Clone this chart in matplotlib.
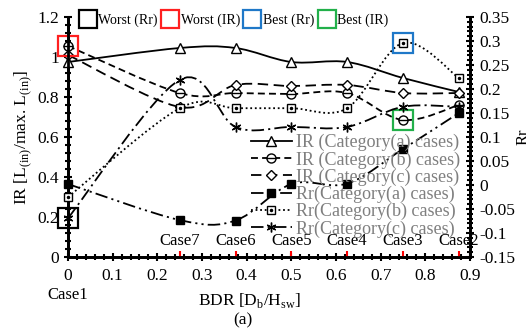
import numpy as np
import matplotlib
matplotlib.use("Agg")
import matplotlib.pyplot as plt
from matplotlib.path import Path
from matplotlib.patches import PathPatch
from matplotlib.lines import Line2D
from matplotlib.ticker import MultipleLocator

plt.rcParams['font.family'] = ['Liberation Serif', 'DejaVu Serif']
plt.rcParams['mathtext.fontset'] = 'custom'
plt.rcParams['mathtext.rm'] = 'Liberation Serif'
plt.rcParams['lines.scale_dashes'] = False

# data
bdr = [0, 0.25, 0.375, 0.5, 0.625, 0.75, 0.875]
case_names = ['Case1', 'Case7', 'Case6', 'Case5', 'Case4', 'Case3', 'Case2']

ir_a = [0.975, 1.045, 1.045, 0.975, 0.975, 0.895, 0.825]
ir_b = [1.055, 0.82, 0.82, 0.815, 0.82, 0.685, 0.76]
ir_c = [1.01, 0.75, 0.86, 0.855, 0.86, 0.82, 0.82]

rr_a = [0.002, -0.073, -0.074, 0.002, 0.003, 0.075, 0.15]
rr_b = [-0.025, 0.16, 0.16, 0.16, 0.16, 0.296, 0.223]
rr_c = [-0.069, 0.219, 0.121, 0.121, 0.121, 0.163, 0.163]

ir_labels = ['IR (Category(a) cases)', 'IR (Category(b) cases)', 'IR (Category(c) cases)']
rr_labels = ['Rr(Category(a) cases)', 'Rr(Category(b) cases)', 'Rr(Category(c) cases)']


def smooth_path(xs, ys):
    # catmull-rom style bezier through the points (like excel smoothed lines)
    pts = np.column_stack([xs, ys]).astype(float)
    n = len(pts)
    verts = [pts[0]]
    codes = [Path.MOVETO]
    for i in range(n - 1):
        p0 = pts[max(i - 1, 0)]
        p1 = pts[i]
        p2 = pts[i + 1]
        p3 = pts[min(i + 2, n - 1)]
        verts += [p1 + (p2 - p0) / 6, p2 - (p3 - p1) / 6, p2]
        codes += [Path.CURVE4] * 3
    return Path(verts, codes)


lw = 1.3
styles = [
    # (values, axis, dashes, marker, size, face, inner marker, inner size)
    (ir_a, 0, None, '^', 6.5, 'white', None, 0),
    (ir_b, 0, (5, 3), 'o', 6.5, 'white', '_', 6.5),
    (ir_c, 0, (7.5, 4), 'D', 5, 'white', None, 0),
    (rr_a, 1, (9, 3, 1.5, 3, 1.5, 3), 's', 5.5, 'black', None, 0),
    (rr_b, 1, (1.3, 2), 's', 6, 'white', 'o', 1.5),
    (rr_c, 1, (9, 3, 1.5, 3), (6, 2, 0), 7, 'black', None, 0),
]

fig = plt.figure(figsize=(5.26, 3.34), dpi=100)
ax = fig.add_axes([68 / 526, 77 / 334, 402 / 526, 240 / 334])
ax2 = ax.twinx()

handles = []
for vals, which, dashes, mk, ms, fc, inner, ims in styles:
    a = ax if which == 0 else ax2
    ls = '-' if dashes is None else (0, dashes)
    a.add_patch(PathPatch(smooth_path(bdr, vals), fill=False, ec='black',
                          lw=lw, ls=ls, zorder=3))
    a.plot(bdr, vals, ls='none', marker=mk, ms=ms, mfc=fc, mec='black',
           mew=1.0, zorder=4, clip_on=False)
    h = Line2D([], [], color='black', lw=lw, marker=mk, ms=ms, mfc=fc,
               mec='black', mew=1.0)
    if dashes is not None:
        h.set_dashes(dashes)
    if inner is not None:
        a.plot(bdr, vals, ls='none', marker=inner, ms=ims, color='black',
               mew=1.0, zorder=5, clip_on=False)
        h = (h, Line2D([], [], ls='none', marker=inner, ms=ims, color='black', mew=1.0))
    handles.append(h)

ax.set_xlim(0, 0.9)
ax.set_ylim(0, 1.2)
ax2.set_ylim(-0.15, 0.35)

ax.xaxis.set_minor_locator(MultipleLocator(0.02))
ax.yaxis.set_minor_locator(MultipleLocator(0.04))
ax2.yaxis.set_minor_locator(MultipleLocator(0.01))

ax.set_xticks([0, 0.1, 0.2, 0.3, 0.4, 0.5, 0.6, 0.7, 0.8, 0.9])
ax.set_xticklabels(['0', '0.1', '0.2', '0.3', '0.4', '0.5', '0.6', '0.7', '0.8', '0.9'])
ax.set_yticks([0, 0.2, 0.4, 0.6, 0.8, 1.0, 1.2])
ax.set_yticklabels(['0', '0.2', '0.4', '0.6', '0.8', '1', '1.2'])
ax2.set_yticks(np.round(np.arange(-0.15, 0.351, 0.05), 2))
ax2.set_yticklabels(['-0.15', '-0.1', '-0.05', '0', '0.05', '0.1', '0.15',
                     '0.2', '0.25', '0.3', '0.35'])

for a in (ax, ax2):
    for s in a.spines.values():
        s.set_linewidth(2)
    a.spines['top'].set_visible(False)
    a.tick_params(which='major', direction='inout', length=6, width=1.5,
                  labelsize=12.5)
    a.tick_params(which='minor', direction='inout', length=4, width=1.5)
ax.tick_params(axis='x', pad=5)

# red case markers and case names
ax.vlines(bdr[1:], 0, 0.03, color='red', lw=1.5, zorder=5)
for x, name in zip(bdr[1:], case_names[1:]):
    ax.text(x, 0.04, name, ha='center', va='bottom', fontsize=12)
ax.text(bdr[0], -0.19, case_names[0], ha='center', va='center', fontsize=12)

ax.set_ylabel(r'IR [L$_{\mathrm{(in)}}$/max. L$_{\mathrm{(in)}}$]', fontsize=12.5, labelpad=2)
ax2.set_ylabel('Rr', fontsize=12, labelpad=0)
fig.text(0.475, 0.1, r'BDR [D$_{\mathrm{b}}$/H$_{\mathrm{sw}}$]', ha='center', va='center',
         fontsize=12.5)
fig.text(0.462, 0.04, '(a)', ha='center', va='center', fontsize=12.5)

# highlight boxes
box_ms = 15
ax.plot([bdr[0]], [ir_b[0]], ls='none', marker='s', ms=box_ms, mfc='none',
        mec='#ff2020', mew=1.6, zorder=6, clip_on=False)
ax2.plot([bdr[0]], [rr_c[0]], ls='none', marker='s', ms=box_ms, mfc='none',
         mec='black', mew=1.6, zorder=6, clip_on=False)
ax2.plot([bdr[5]], [rr_b[5]], ls='none', marker='s', ms=box_ms, mfc='none',
         mec='#1f78c8', mew=1.6, zorder=6, clip_on=False)
ax.plot([bdr[5]], [ir_b[5]], ls='none', marker='s', ms=box_ms, mfc='none',
        mec='#22b04a', mew=1.6, zorder=6, clip_on=False)

# top legend for boxes
box_colors = ['black', '#ff2020', '#1f78c8', '#22b04a']
box_labels = ['Worst (Rr)', 'Worst (IR)', 'Best (Rr)', 'Best (IR)']
box_handles = [Line2D([], [], ls='none', marker='s', ms=13, mfc='none', mec=c, mew=1.6)
               for c in box_colors]
leg1 = ax2.legend(box_handles, box_labels, ncol=4, loc='center left',
                  bbox_to_anchor=(0.03, 0.985), frameon=False, fontsize=10,
                  handlelength=1.1, handletextpad=0.2, columnspacing=0.35,
                  borderaxespad=0, borderpad=0)
ax2.add_artist(leg1)

leg2 = ax2.legend(handles, ir_labels + rr_labels, loc='lower right',
                  bbox_to_anchor=(0.975, 0.08), frameon=False, fontsize=13,
                  labelspacing=0.0, handlelength=2.3, handletextpad=0.2,
                  borderaxespad=0, borderpad=0, labelcolor='#7f7f7f')

fig.savefig('out.png', dpi=100)
